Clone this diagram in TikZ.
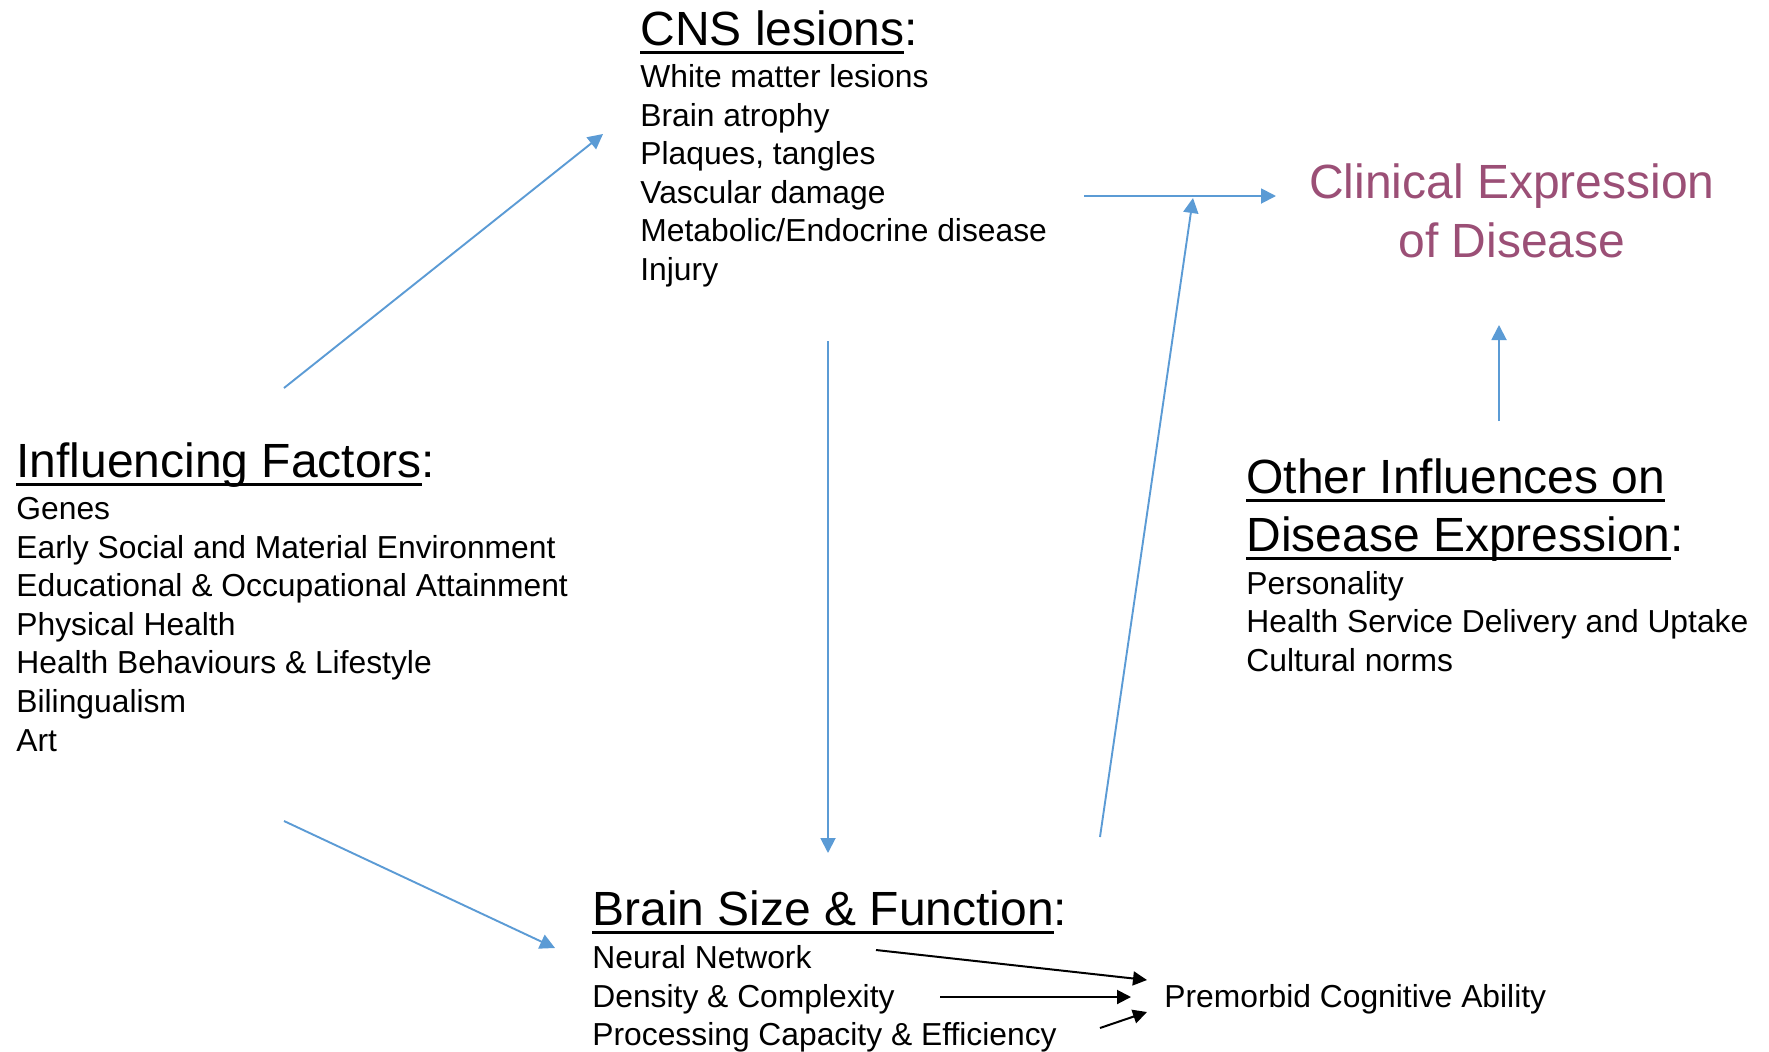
\documentclass[tikz,border=0pt]{standalone}
\usepackage{fontspec}
\setmainfont{Liberation Sans}
\usetikzlibrary{arrows.meta}
\definecolor{linkblue}{RGB}{91,155,213}
\definecolor{plum}{RGB}{155,79,118}

% underline drawn as a rule just below the baseline
\newcommand\ulword[1]{\setbox0\hbox{#1}\rlap{\rule[-0.18em]{\wd0}{0.06em}}\box0}

\begin{document}
\begin{tikzpicture}[x=0.5pt,y={(0,-0.5pt)},
  body/.style={anchor=base west, inner sep=0pt, font=\fontsize{15.9}{19}\selectfont},
  head/.style={anchor=base west, inner sep=0pt, font=\fontsize{24}{29}\selectfont},
  title/.style={anchor=base, inner sep=0pt, text=plum, font=\fontsize{24}{29}\selectfont},
  flow/.style={draw=linkblue, line width=0.95pt, -{Triangle[length=7.5pt,width=7.5pt]}},
  pointer/.style={draw=black, line width=1pt, -{Triangle[length=7pt,width=7pt]}}]

\fill[white] (0,0) rectangle (1769,1051);
\useasboundingbox (0,0) rectangle (1769,1051);

% CNS lesions block
\node[head] (cnshead) at (640,45) {\ulword{CNS lesions}:};
\foreach \t [count=\i] in {{White matter lesions},{Brain atrophy},{Plaques, tangles},
  {Vascular damage},{Metabolic/Endocrine disease},{Injury}}
  \node[body] (cns\i) at (640,{87.5+38.6*(\i-1)}) {\t};

% Influencing factors block
\node[head] (inflhead) at (16,477) {\ulword{Influencing Factors}:};
\foreach \t [count=\i] in {{Genes},{Early Social and Material Environment},
  {Educational \& Occupational Attainment},{Physical Health},
  {Health Behaviours \& Lifestyle},{Bilingualism},{Art}}
  \node[body] (infl\i) at (16,{519.5+38.6*(\i-1)}) {\t};

% Other influences block
\node[head] (otherhead1) at (1246,493) {\ulword{Other Influences on}};
\node[head] (otherhead2) at (1246,551) {\ulword{Disease Expression}:};
\foreach \t [count=\i] in {{Personality},{Health Service Delivery and Uptake},{Cultural norms}}
  \node[body] (other\i) at (1246,{594+38.6*(\i-1)}) {\t};

% Brain size block
\node[head] (brainhead) at (592,925) {\ulword{Brain Size \& Function}:};
\foreach \t [count=\i] in {{Neural Network},{Density \& Complexity},
  {Processing Capacity \& Efficiency}}
  \node[body] (brain\i) at (592,{968.5+38.6*(\i-1)}) {\t};

\node[body] (premorbid) at (1164,1007) {Premorbid Cognitive Ability};

% outcome
\node[title] (clin1) at (1512,198) {Clinical Expression};
\node[title] (clin2) at (1512,257) {of Disease};

% connector end points
\coordinate (inflUp) at (284,388);
\coordinate (cnsIn) at (603,134);
\coordinate (inflDown) at (284,821);
\coordinate (brainIn) at (555,948);
\coordinate (cnsDown) at (828,341);
\coordinate (brainTop) at (828,853);
\coordinate (cnsOut) at (1084,196);
\coordinate (clinIn) at (1276,196);
\coordinate (brainOut) at (1100,837);
\coordinate (joinPt) at (1193,198);
\coordinate (otherUp) at (1499,421);
\coordinate (clinBelow) at (1499,325);
\coordinate (nnOut) at (876,950);
\coordinate (pcaTop) at (1147,980);
\coordinate (dcOut) at (940,997);
\coordinate (pcaMid) at (1131,997);
\coordinate (pceOut) at (1100,1028);
\coordinate (pcaLow) at (1147,1012);

\draw[flow] (inflUp) -- (cnsIn);
\draw[flow] (inflDown) -- (brainIn);
\draw[flow] (cnsDown) -- (brainTop);
\draw[flow] (cnsOut) -- (clinIn);
\draw[flow] (brainOut) -- (joinPt);
\draw[flow] (otherUp) -- (clinBelow);

\draw[pointer] (nnOut) -- (pcaTop);
\draw[pointer] (dcOut) -- (pcaMid);
\draw[pointer] (pceOut) -- (pcaLow);
\end{tikzpicture}
\end{document}
